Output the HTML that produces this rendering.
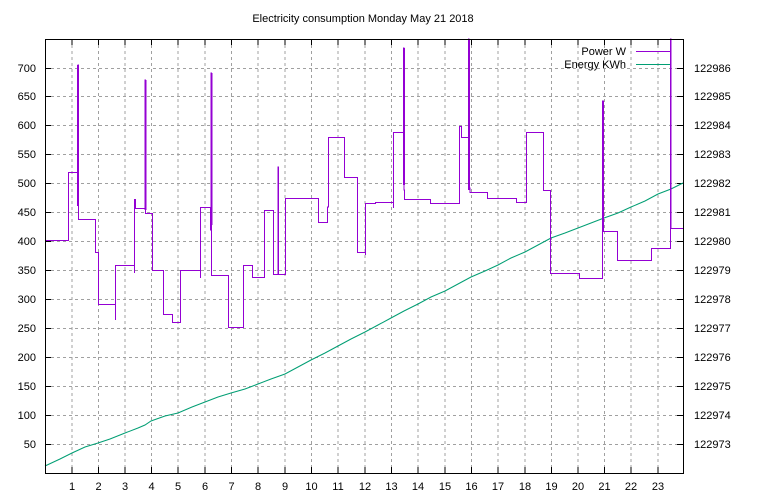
<!DOCTYPE html>
<html><head><meta charset="utf-8"><style>
body{margin:0;background:#fff}
svg{display:block;font-family:"Liberation Sans","DejaVu Sans",sans-serif;font-size:11px}
</style></head><body>
<svg width="768" height="500" viewBox="0 0 768 500" xmlns="http://www.w3.org/2000/svg">
<rect width="768" height="500" fill="#fff"/>
<text x="363" y="22" text-anchor="middle">Electricity consumption Monday May 21 2018</text>
<g stroke="#a0a0a0" stroke-width="1" stroke-dasharray="3,3" fill="none">
<path d="M45,444.5H683M45,415.5H683M45,386.5H683M45,357.5H683M45,328.5H683M45,299.5H683M45,270.5H683M45,241.5H683M45,212.5H683M45,183.5H683M45,154.5H683M45,125.5H683M45,96.5H683M45,68.5H683"/>
<path d="M72,39V473M98.5,39V473M125,39V473M151.5,39V473M178,39V473M205,39V473M231.5,39V473M258,39V473M285,39V473M311.5,39V473M338,39V473M365,39V473M391.5,39V473M418,39V473M445,39V473M471.5,39V473M498,39V473M525,39V473M551.5,39V473M578,39V473M604.5,39V473M631,39V473M658,39V473"/>
</g>
<g stroke="#000" stroke-width="1">
<path d="M45,444.5h6M45,415.5h6M45,386.5h6M45,357.5h6M45,328.5h6M45,299.5h6M45,270.5h6M45,241.5h6M45,212.5h6M45,183.5h6M45,154.5h6M45,125.5h6M45,96.5h6M45,68.5h6"/>
<path d="M683,444.5h-6M683,415.5h-6M683,386.5h-6M683,357.5h-6M683,328.5h-6M683,299.5h-6M683,270.5h-6M683,241.5h-6M683,212.5h-6M683,183.5h-6M683,154.5h-6M683,125.5h-6M683,96.5h-6M683,68.5h-6"/>
<path d="M72,473v-6M98.5,473v-6M125,473v-6M151.5,473v-6M178,473v-6M205,473v-6M231.5,473v-6M258,473v-6M285,473v-6M311.5,473v-6M338,473v-6M365,473v-6M391.5,473v-6M418,473v-6M445,473v-6M471.5,473v-6M498,473v-6M525,473v-6M551.5,473v-6M578,473v-6M604.5,473v-6M631,473v-6M658,473v-6"/>
<path d="M72,39v6M98.5,39v6M125,39v6M151.5,39v6M178,39v6M205,39v6M231.5,39v6M258,39v6M285,39v6M311.5,39v6M338,39v6M365,39v6M391.5,39v6M418,39v6M445,39v6M471.5,39v6M498,39v6M525,39v6M551.5,39v6M578,39v6M604.5,39v6M631,39v6M658,39v6"/>
</g>
<g text-anchor="end">
<text x="36" y="448">50</text><text x="36" y="419">100</text><text x="36" y="390">150</text><text x="36" y="361">200</text><text x="36" y="332">250</text><text x="36" y="303">300</text><text x="36" y="274">350</text><text x="36" y="245">400</text><text x="36" y="216">450</text><text x="36" y="187">500</text><text x="36" y="158">550</text><text x="36" y="129">600</text><text x="36" y="100">650</text><text x="36" y="72">700</text>
</g>
<g>
<text x="694" y="448">122973</text><text x="694" y="419">122974</text><text x="694" y="390">122975</text><text x="694" y="361">122976</text><text x="694" y="332">122977</text><text x="694" y="303">122978</text><text x="694" y="274">122979</text><text x="694" y="245">122980</text><text x="694" y="216">122981</text><text x="694" y="187">122982</text><text x="694" y="158">122983</text><text x="694" y="129">122984</text><text x="694" y="100">122985</text><text x="694" y="72">122986</text>
</g>
<g text-anchor="middle">
<text x="72" y="490">1</text><text x="98.5" y="490">2</text><text x="125" y="490">3</text><text x="151.5" y="490">4</text><text x="178" y="490">5</text><text x="205" y="490">6</text><text x="231.5" y="490">7</text><text x="258" y="490">8</text><text x="285" y="490">9</text><text x="311.5" y="490">10</text><text x="338" y="490">11</text><text x="365" y="490">12</text><text x="391.5" y="490">13</text><text x="418" y="490">14</text><text x="445" y="490">15</text><text x="471.5" y="490">16</text><text x="498" y="490">17</text><text x="525" y="490">18</text><text x="551.5" y="490">19</text><text x="578" y="490">20</text><text x="604.5" y="490">21</text><text x="631" y="490">22</text><text x="658" y="490">23</text>
</g>
<path fill="none" stroke="#009e73" stroke-width="1" d="M45,466L60,459L72,453L85,447L98,443L110,439L125,433L138,428L145,425L151,421L165,416L178,413L192,407L205,402L218,397L231,393L245,389L258,384L271,379L285,374L298,367L311,360L325,353L338,346L351,339L365,332L378,325L391,318L404,311L418,304L431,297L445,291L458,284L471,277L485,271L498,265L511,258L525,252L538,245L551,238L565,233L578,228L591,223L604,218L618,213L631,207L645,201L658,194L671,189L683,183"/>
<path fill="none" stroke="#9400d3" stroke-width="1" shape-rendering="crispEdges" d="M45.5,289V240.5H68.5V172.5H77.5V205.5H78V65H78.5V219.5H95.5V252.5H98.5V304.5H115.5V320H115.5V265.5H134.5V273V199.5H135.5V208.5H145V80H145.5V213.5H152.5V270.5H163.5V314.5H172.5V322.5H180.5V270.5H200.5V278V207.5H210.5V230H211V73H211.5V275.5H228.5V327.5H243.5V265.5H252.5V277.5H264.5V210.5H273.5V223V274.5H278V167H278.5V274.5H285.5V198.5H318.5V222.5H327.5V207H328.5V137.5H344.5V177.5H357.5V252.5H365.5V255V203.5H375.5V202.5H393.5V208V132.5H403.5V48H404V190H404.5V199.5H430.5V203.5H459.5V126.5H461.5V137.5H468.5V39H469V188H470V192.5H487.5V198.5H516.5V202.5H526.5V132.5H543.5V190.5H550.5V273.5H579.5V278.5H602.5V101H603.5V231.5H617.5V260.5H651.5V248.5H670.5V39H671V228.5H683"/>
<g stroke="#9400d3" stroke-width="2"><path d="M78,65V180M145.5,80V210M211.5,73V225M404,48V185M469,39V190M603,101V220"/></g>
<rect x="45.5" y="39.5" width="638" height="434" fill="none" stroke="#000" stroke-width="1"/>
<text x="626" y="55" text-anchor="end">Power W</text>
<path d="M636,51.5H670" stroke="#9400d3"/>
<text x="626" y="68" text-anchor="end">Energy KWh</text>
<path d="M636,64.5H670" stroke="#009e73"/>
</svg>
</body></html>
